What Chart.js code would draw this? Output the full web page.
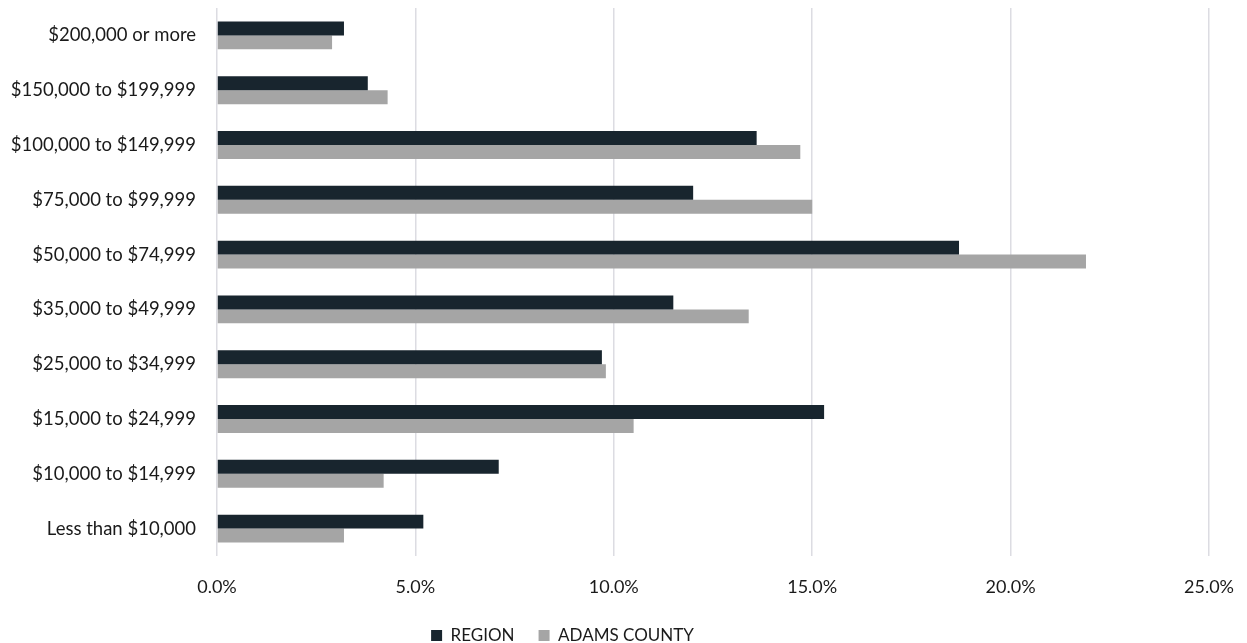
<!DOCTYPE html>
<html>
<head>
<meta charset="utf-8">
<script src="https://cdn.jsdelivr.net/npm/chart.js@4/dist/chart.umd.min.js"></script>
<style>
  html, body { margin: 0; padding: 0; background: #fff; overflow: hidden; }
  #wrap { width: 1247px; height: 643px; position: relative; }
</style>
</head>
<body>
<div id="wrap"><canvas id="incomeChart" width="1247" height="643"></canvas></div>
<script>
    // Data (top row first)
    const categories = ['$200,000 or more', '$150,000 to $199,999', '$100,000 to $149,999', '$75,000 to $99,999',
      '$50,000 to $74,999', '$35,000 to $49,999', '$25,000 to $34,999', '$15,000 to $24,999',
      '$10,000 to $14,999', 'Less than $10,000'];
    const regionValues = [3.2, 3.8, 13.6, 12.0, 18.7, 11.5, 9.7, 15.3, 7.1, 5.2];
    const adamsValues = [2.9, 4.3, 14.7, 15.0, 21.9, 13.4, 9.8, 10.5, 4.2, 3.2];
    const xTicks = [0, 5, 10, 15, 20, 25];

    const textColor = '#1a1a1a';
    const fontFamily = 'Lato, "Open Sans", sans-serif';

    // Shift the legend left a bit (the original is not centred on the canvas)
    const legendShift = {
      id: 'legendShift',
      afterLayout: function(chart) {
        chart.legend.right -= 84;
      }
    };

    const ctx = document.getElementById('incomeChart').getContext('2d');
    const chart = new Chart(ctx, {
      type: 'bar',
      data: {
        labels: categories,
        datasets: [{
          label: 'REGION',
          data: regionValues,
          backgroundColor: '#18252e',
          borderWidth: 0,
          categoryPercentage: 0.51,
          barPercentage: 1.0
        }, {
          label: 'ADAMS COUNTY',
          data: adamsValues,
          backgroundColor: '#a5a5a5',
          borderWidth: 0,
          categoryPercentage: 0.51,
          barPercentage: 1.0
        }]
      },
      plugins: [legendShift],
      options: {
        indexAxis: 'y',
        responsive: false,
        animation: false,
        layout: {
          padding: { top: 8, right: 38, bottom: -11, left: 0 }
        },
        scales: {
          x: {
            min: xTicks[0],
            max: xTicks[xTicks.length - 1],
            afterBuildTicks: function(scale) {
              scale.ticks = xTicks.map(v => ({ value: v }));
            },
            afterFit: function(scale) {
              scale.height = 47;
              scale.paddingLeft = 0;
              scale.paddingRight = 0;
            },
            grid: {
              color: '#dcdce2',
              lineWidth: 1.5,
              drawTicks: false
            },
            border: { display: false },
            ticks: {
              padding: 20,
              color: textColor,
              font: { family: fontFamily, size: 18 },
              callback: function(value) {
                return value.toFixed(1) + '%';
              }
            }
          },
          y: {
            afterFit: function(scale) {
              scale.width = 217;
              scale.paddingTop = 0;
              scale.paddingBottom = 0;
            },
            grid: { display: false, drawTicks: false },
            border: { display: false },
            ticks: {
              padding: 21,
              color: textColor,
              font: { family: fontFamily, size: 18.5 }
            }
          }
        },
        plugins: {
          tooltip: { enabled: false },
          legend: {
            position: 'bottom',
            labels: {
              boxWidth: 11,
              boxHeight: 11,
              padding: 24,
              color: textColor,
              font: { family: fontFamily, size: 17 }
            }
          }
        }
      }
    });
</script>
</body>
</html>
